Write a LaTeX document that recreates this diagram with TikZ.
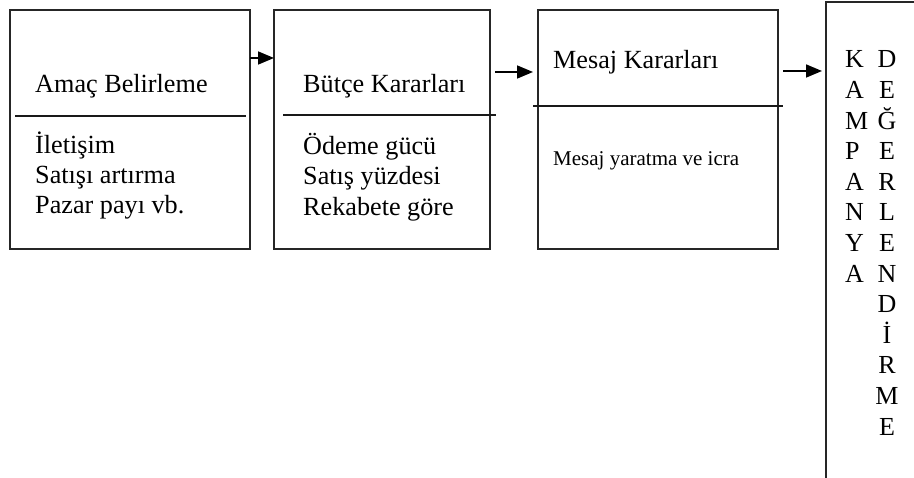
\documentclass[tikz,border=0pt]{standalone}
\usepackage{fontspec}
\setmainfont{Liberation Serif}
\usetikzlibrary{arrows.meta}
\begin{document}
\begin{tikzpicture}[x=1pt,y=-1pt,
  box/.style={draw=black!85, line width=1.7pt, rectangle, inner sep=0pt, outer sep=0pt, anchor=north west},
  sep/.style={line width=1.9pt, draw=black!90},
  arr/.style={line width=1.7pt, -{Triangle[length=16pt,width=13pt]}},
  txt/.style={font=\fontsize{26.2}{30}\selectfont, inner sep=0pt, anchor=base west},
  small/.style={font=\fontsize{21}{25}\selectfont, inner sep=0pt, anchor=base west},
  letter/.style={font=\fontsize{26}{30}\selectfont, inner sep=0pt},
]
\useasboundingbox (0,0) rectangle (914,478);
\clip (0,0) rectangle (914,478);
% boxes
\node[box, minimum width=240pt, minimum height=239pt] (b1) at (10,10) {};
\node[box, minimum width=216pt, minimum height=239pt] (b2) at (274,10) {};
\node[box, minimum width=240pt, minimum height=239pt] (b3) at (538,10) {};
\node[box, minimum width=140pt, minimum height=520pt] (b4) at (826,2) {};
% separators
\draw[sep] (15,116) -- (246,116);
\draw[sep] (283,115) -- (496,115);
\draw[sep] (533,106) -- (783,106);
% titles
\node[txt] (t1) at (35,93) {Amaç Belirleme};
\node[txt] (t2) at (303,93) {Bütçe Kararları};
\node[txt] (t3) at (553,69) {Mesaj Kararları};
% bodies
\foreach \t [count=\i] in {İletişim, Satışı artırma, Pazar payı vb.}
  \node[txt] (p1-\i) at ({35},{124+30*\i}) {\t};
\foreach \t [count=\i] in {Ödeme gücü, Satış yüzdesi, Rekabete göre}
  \node[txt] (p2-\i) at ({303},{124+30.5*\i}) {\t};
\node[small] (p3) at (553,166) {Mesaj yaratma ve icra};
% vertical letters
\foreach \t [count=\i] in {K,A,M,P,A,N,Y,A}
  \node[letter, anchor=base west] (k\i) at ({845},{68+30.6*(\i-1)}) {\t};
\foreach \t [count=\i] in {D,E,Ğ,E,R,L,E,N,D,İ,R,M,E}
  \node[letter, anchor=base] (d\i) at ({887},{68+30.6*(\i-1)}) {\t};
% arrows
\coordinate (a1) at (0,58);
\coordinate (a2s) at (495,72);
\coordinate (a2e) at (533,72);
\coordinate (a3s) at (783,71);
\coordinate (a3e) at (822,71);
\draw[arr] (b1.east |- a1) -- (b2.west |- a1);
\draw[arr] (a2s) -- (a2e);
\draw[arr] (a3s) -- (a3e);
\end{tikzpicture}
\end{document}
